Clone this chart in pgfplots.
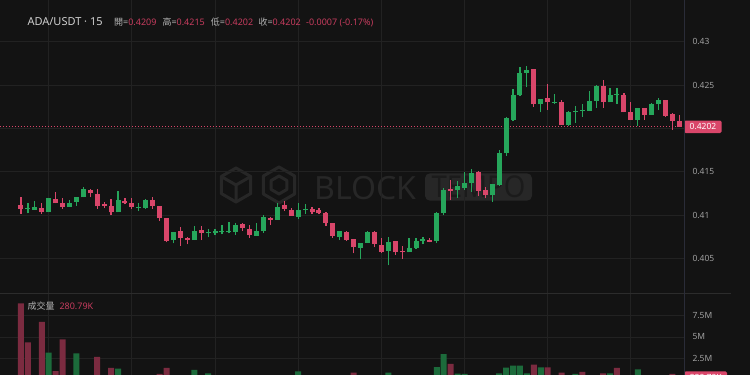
\documentclass[border=0pt]{standalone}
\usepackage{fontspec}
\setmainfont{Noto Sans}
\newfontfamily\cjk{Noto Sans CJK TC}
\usepackage{pgfplots}
\pgfplotsset{compat=1.18}
\usepackage{pgfplotstable}

\definecolor{bgc}{HTML}{131313}
\definecolor{gridc}{HTML}{222222}
\definecolor{sepc}{HTML}{2C2C2C}
\definecolor{axc}{HTML}{2A2C38}
\definecolor{upc}{HTML}{26A65B}
\definecolor{dnc}{HTML}{D9466A}
\definecolor{vupc}{HTML}{1C6B3B}
\definecolor{vdnc}{HTML}{7B2B40}
\definecolor{txtc}{HTML}{CFCFCF}
\definecolor{lblc}{HTML}{B4B4B4}
\definecolor{tickc}{HTML}{A0A0A0}
\definecolor{valc}{HTML}{C73C5E}
\definecolor{wmc}{HTML}{272727}
\definecolor{wmd}{HTML}{1B1B1B}

% ADA/USDT, 15-minute candles (index, open, high, low, close)
\pgfplotstableread{
i o h l c
1 0.41073 0.41138 0.41023 0.41088
2 0.41064 0.41165 0.41064 0.41096
4 0.41035 0.41205 0.41035 0.41199
7 0.41096 0.41176 0.41096 0.41145
8 0.41153 0.41207 0.41111 0.41207
9 0.41207 0.41329 0.41207 0.41303
14 0.41035 0.41280 0.41035 0.41176
17 0.41084 0.41138 0.41053 0.41099
18 0.41084 0.41182 0.41073 0.41176
22 0.40715 0.40811 0.40677 0.40811
25 0.40715 0.40877 0.40715 0.40823
27 0.40793 0.40846 0.40747 0.40811
28 0.40793 0.40846 0.40773 0.40819
29 0.40804 0.40888 0.40781 0.40823
30 0.40804 0.40919 0.40793 0.40816
31 0.40811 0.40908 0.40773 0.40885
34 0.40765 0.40908 0.40765 0.40823
35 0.40819 0.41003 0.40800 0.40977
37 0.40946 0.41138 0.40946 0.41099
40 0.40984 0.41138 0.40954 0.41064
41 0.41061 0.41130 0.41015 0.41073
46 0.40753 0.40816 0.40715 0.40816
49 0.40627 0.40677 0.40496 0.40677
50 0.40681 0.40815 0.40681 0.40808
53 0.40589 0.40753 0.40422 0.40696
56 0.40574 0.40738 0.40574 0.40623
57 0.40627 0.40744 0.40612 0.40704
58 0.40704 0.40750 0.40666 0.40727
60 0.40700 0.41038 0.40681 0.41023
61 0.41023 0.41320 0.41003 0.41295
63 0.41291 0.41395 0.41205 0.41341
64 0.41320 0.41495 0.41291 0.41369
65 0.41369 0.41530 0.41265 0.41484
68 0.41230 0.41357 0.41157 0.41357
69 0.41352 0.41752 0.41338 0.41714
70 0.41714 0.42136 0.41687 0.42118
71 0.42101 0.42452 0.42083 0.42386
72 0.42386 0.42712 0.42378 0.42636
73 0.42643 0.42720 0.42475 0.42674
75 0.42279 0.42340 0.42187 0.42340
77 0.42297 0.42394 0.42279 0.42309
79 0.42044 0.42202 0.42032 0.42187
80 0.42190 0.42263 0.42067 0.42205
81 0.42202 0.42279 0.42136 0.42213
82 0.42202 0.42436 0.42202 0.42317
83 0.42317 0.42501 0.42240 0.42493
85 0.42302 0.42470 0.42302 0.42386
86 0.42386 0.42470 0.42282 0.42397
89 0.42098 0.42233 0.42029 0.42233
91 0.42156 0.42288 0.42156 0.42279
92 0.42279 0.42355 0.42213 0.42323
}\upcandles

\pgfplotstableread{
i o h l c
0 0.41119 0.41207 0.41015 0.41073
3 0.41088 0.41138 0.41015 0.41041
5 0.41188 0.41268 0.41138 0.41138
6 0.41145 0.41196 0.41073 0.41096
10 0.41295 0.41303 0.41207 0.41253
11 0.41245 0.41303 0.41073 0.41104
12 0.41130 0.41153 0.41081 0.41107
13 0.41107 0.41188 0.41003 0.41035
15 0.41165 0.41196 0.41127 0.41142
16 0.41145 0.41199 0.41069 0.41092
19 0.41176 0.41214 0.41073 0.41107
20 0.41107 0.41107 0.40934 0.40965
21 0.40965 0.40965 0.40689 0.40704
23 0.40819 0.40869 0.40650 0.40738
24 0.40742 0.40753 0.40666 0.40715
26 0.40831 0.40877 0.40715 0.40800
32 0.40900 0.40915 0.40819 0.40854
33 0.40842 0.40888 0.40742 0.40773
36 0.40972 0.40984 0.40888 0.40946
38 0.41115 0.41165 0.41049 0.41073
39 0.41064 0.41081 0.40995 0.40995
42 0.41069 0.41099 0.41015 0.41041
43 0.41058 0.41081 0.41015 0.41023
44 0.41023 0.41038 0.40880 0.40915
45 0.40908 0.40908 0.40742 0.40761
47 0.40811 0.40819 0.40704 0.40715
48 0.40723 0.40723 0.40562 0.40631
51 0.40808 0.40823 0.40631 0.40669
52 0.40658 0.40735 0.40562 0.40581
54 0.40700 0.40700 0.40543 0.40574
55 0.40594 0.40646 0.40496 0.40577
59 0.40715 0.40744 0.40689 0.40696
62 0.41300 0.41407 0.41176 0.41283
66 0.41495 0.41510 0.41226 0.41283
67 0.41291 0.41323 0.41196 0.41230
74 0.42685 0.42691 0.42251 0.42279
76 0.42355 0.42509 0.42213 0.42302
78 0.42302 0.42328 0.42044 0.42044
84 0.42493 0.42559 0.42240 0.42302
87 0.42386 0.42412 0.42187 0.42187
88 0.42187 0.42302 0.42098 0.42098
90 0.42233 0.42233 0.42098 0.42156
93 0.42323 0.42328 0.42136 0.42147
94 0.42164 0.42175 0.41983 0.42086
95 0.4209 0.4215 0.4202 0.4202
}\downcandles

% traded volume per candle, in millions
\pgfplotstableread{
i v
2 0.45
4 3.19
7 0.52
8 3.12
9 0.55
14 1.35
17 0.28
18 0.48
22 0.55
25 1.20
27 0.82
28 0.25
29 0.30
30 0.22
31 0.45
34 0.35
35 0.55
37 0.58
40 1.05
41 0.28
46 0.35
49 0.45
50 0.50
53 0.89
56 0.40
57 0.45
58 0.25
60 1.54
61 3.04
63 0.77
64 0.74
65 0.58
68 0.50
69 0.82
70 1.46
71 1.69
72 1.69
73 0.82
75 1.51
77 0.45
79 0.55
80 0.74
82 0.50
83 0.58
85 0.82
89 1.28
91 0.50
92 0.35
}\volup

\pgfplotstableread{
i v
0 8.88
1 4.39
3 6.73
5 1.08
6 4.74
10 0.40
11 2.70
12 0.35
13 1.43
15 0.30
16 0.50
19 0.42
20 0.74
21 1.43
23 0.50
24 0.30
26 0.35
32 0.30
33 0.40
36 0.25
38 0.40
39 0.35
42 0.22
43 0.25
44 0.50
45 0.55
47 0.40
48 0.89
51 0.52
52 0.48
54 0.50
55 0.35
59 0.22
62 1.89
66 0.55
67 0.35
74 1.81
76 1.51
78 0.89
81 0.97
84 0.82
86 1.43
87 0.55
88 0.50
90 0.45
93 0.55
94 0.74
95 0.28079
}\voldown

\pgfplotsset{
  pane/.style={
    scale only axis, width=684pt,
    xmin=-3.03, xmax=95.67,
    axis line style={draw=none}, tick style={draw=none},
    xtick={4,16,...,88}, xticklabels={},
    xmajorgrids, ymajorgrids,
    major grid style={gridc, line width=0.8pt},
    yticklabel pos=right,
    yticklabel style={font=\fontsize{8.5}{10}\selectfont, text=tickc, anchor=west, xshift=5pt},
    scaled y ticks=false,
    clip mode=individual,
  },
}

\begin{document}
\begin{tikzpicture}[x=1pt,y=1pt]
\useasboundingbox (0,0) rectangle (750,375);
\clip (0,0) rectangle (750,375);
\fill[bgc] (0,0) rectangle (750,375);

% watermark
\begin{scope}[wmc, line width=3pt, line join=round]
  \draw (236,190) +(90:17) -- +(150:17) -- +(210:17) -- +(270:17) -- +(330:17) -- +(30:17) -- cycle;
  \draw (236,190) +(150:17) -- (236,190) -- +(30:17) (236,190) -- +(270:17);
  \draw (279,190) +(90:18) -- +(150:18) -- +(210:18) -- +(270:18) -- +(330:18) -- +(30:18) -- cycle;
  \draw (279,190) +(90:9) -- +(150:9) -- +(210:9) -- +(270:9) -- +(330:9) -- +(30:9) -- cycle;
\end{scope}
\node[anchor=base west, inner sep=0pt, text=wmc, font=\fontsize{32}{32}\selectfont\bfseries] at (314,175.5) {BLOCK};
\fill[wmc, rounded corners=5pt] (425,174.3) rectangle (532,201.7);
\node[anchor=base, inner sep=0pt, text=wmd, font=\fontsize{30}{30}\selectfont\bfseries, xscale=0.92] at (478.5,177) {TEMPO};

% price pane
\begin{axis}[pane, at={(0pt,82pt)}, anchor=south west, height=293pt,
  ymin=0.401048, ymax=0.434804,
  ytick={0.405,0.41,0.415,0.42,0.425,0.43},
  yticklabels={0.405,0.41,0.415,,0.425,0.43}]
  \addplot[dnc, line width=0.8pt, dash pattern=on 1pt off 2pt] coordinates {(-3.03,0.4202) (95.67,0.4202)};
  \addplot[upc, line width=1.2pt, quiver={u=0, v=\thisrow{h}-\thisrow{l}}] table[x=i, y=l] {\upcandles};
  \addplot[upc, line width=5pt, quiver={u=0, v={max(\thisrow{c}-\thisrow{o},0.00012)}}] table[x=i, y=o] {\upcandles};
  \addplot[dnc, line width=1.2pt, quiver={u=0, v=\thisrow{h}-\thisrow{l}}] table[x=i, y=l] {\downcandles};
  \addplot[dnc, line width=5pt, quiver={u=0, v={max(\thisrow{o}-\thisrow{c},0.00012)}}] table[x=i, y=c] {\downcandles};
  \node[fill=dnc, text=white, rounded corners=1.5pt, inner sep=0pt, minimum width=37.5pt, minimum height=12.5pt, anchor=west, font=\fontsize{8.5}{10}\selectfont] at (axis cs:95.67,0.4202) {0.4202};
\end{axis}

% volume pane
\begin{axis}[pane, at={(0pt,-5.4pt)}, anchor=south west, height=87.4pt,
  ymin=0, ymax=10.07,
  ytick={2.5,5,7.5}, yticklabels={2.5M,5M,7.5M}]
  \addplot[ybar, bar width=6pt, fill=vupc, draw=none] table[x=i, y=v] {\volup};
  \addplot[ybar, bar width=6pt, fill=vdnc, draw=none] table[x=i, y=v] {\voldown};
  \node[fill=dnc, text=white, rounded corners=1.5pt, inner sep=0pt, minimum width=43pt, minimum height=13pt, anchor=west, font=\fontsize{8.5}{10}\selectfont] at (axis cs:95.67,0.28079) {280.79K};
\end{axis}

% pane separator and price scale border
\draw[sepc, line width=0.8pt] (0,82) -- (731,82);
\draw[axc, line width=0.8pt] (684.3,0) -- (684.3,375);

% header
\node[anchor=base west, inner sep=0pt, text=txtc, font=\fontsize{11}{13}\selectfont] at (27.3,349.3) {ADA/USDT · 15};
\begin{scope}[every node/.style={anchor=base west, inner sep=0pt, text=lblc, font=\fontsize{9}{11}\selectfont}]
  \node at (114,349.3) {{\cjk 開}=\textcolor{valc}{0.4209}};
  \node at (162.3,349.3) {{\cjk 高}=\textcolor{valc}{0.4215}};
  \node at (210.7,349.3) {{\cjk 低}=\textcolor{valc}{0.4202}};
  \node at (258.3,349.3) {{\cjk 收}=\textcolor{valc}{0.4202}};
  \node[text=valc] at (306,349.3) {-0.0007 (-0.17\%)};
  \node at (27.3,65.7) {{\cjk 成交量}};
  \node[text=valc] at (59.3,65.7) {280.79K};
\end{scope}
\end{tikzpicture}
\end{document}
